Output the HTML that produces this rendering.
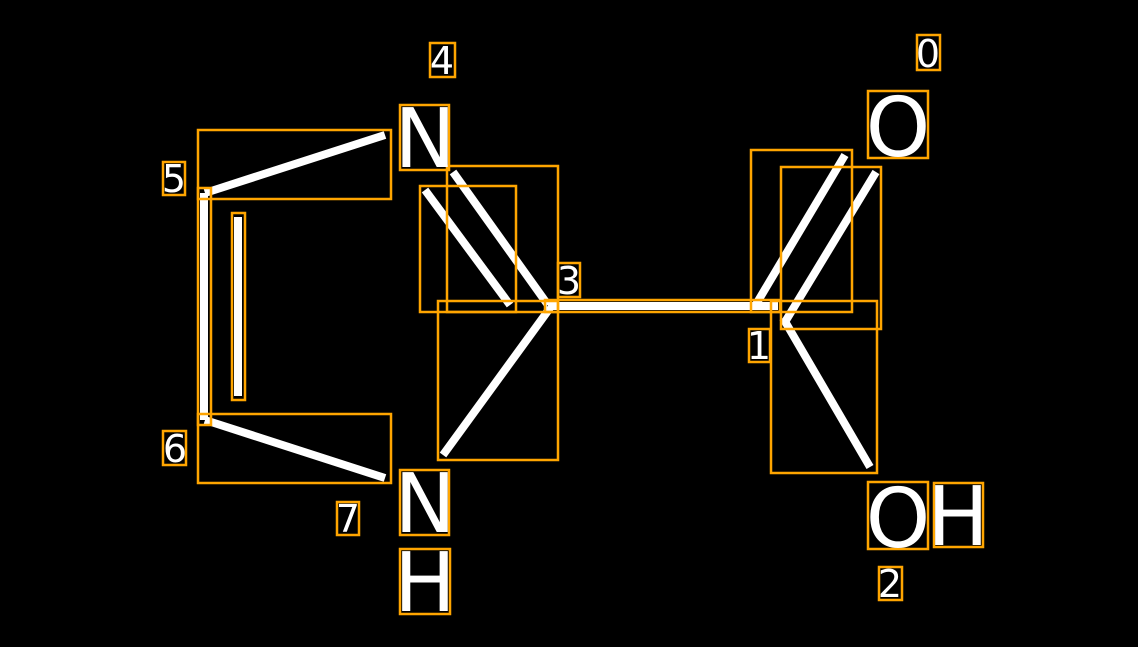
<!DOCTYPE html>
<html><head><meta charset="utf-8"><style>html,body{margin:0;padding:0;background:#000}svg{display:block}</style></head>
<body>
<svg width="1138" height="647" viewBox="0 0 1138 647" xmlns="http://www.w3.org/2000/svg">
<rect width="1138" height="647" fill="#000"/>
<g stroke="#fff" stroke-width="8" stroke-linecap="butt" fill="none">
<line x1="385" y1="135" x2="205" y2="193"/>
<line x1="204" y1="193" x2="204" y2="420"/>
<line x1="238" y1="217" x2="238" y2="396"/>
<line x1="205" y1="420" x2="385" y2="478"/>
<line x1="453" y1="172" x2="548" y2="305"/>
<line x1="425" y1="190" x2="510" y2="305"/>
<line x1="550" y1="308" x2="443" y2="455"/>
<line x1="548" y1="306" x2="778" y2="306"/>
<line x1="755" y1="306" x2="845" y2="155"/>
<line x1="785" y1="322" x2="876" y2="172"/>
<line x1="783" y1="318" x2="870" y2="467"/>
</g>
<g stroke="#FFA500" stroke-width="2.5" fill="none">
<rect x="198" y="130" width="193" height="69"/>
<rect x="198" y="414" width="193" height="69"/>
<rect x="198" y="188" width="13" height="237"/>
<rect x="232" y="213" width="13" height="187"/>
<rect x="447" y="166" width="111" height="146"/>
<rect x="420" y="186" width="96" height="126"/>
<rect x="438" y="301" width="120" height="159"/>
<rect x="545" y="300" width="235" height="12"/>
<rect x="751" y="150" width="101" height="162"/>
<rect x="781" y="167" width="100" height="162"/>
<rect x="771" y="301" width="106" height="172"/>
<rect x="430" y="43" width="25" height="34"/>
<rect x="400" y="105" width="49" height="65"/>
<rect x="163" y="162" width="22" height="33"/>
<rect x="163" y="431" width="23" height="34"/>
<rect x="337" y="502" width="22" height="33"/>
<rect x="400" y="470" width="49" height="65"/>
<rect x="400" y="549" width="50" height="65"/>
<rect x="558" y="263" width="22" height="34"/>
<rect x="749" y="329" width="21" height="33"/>
<rect x="917" y="35" width="23" height="35"/>
<rect x="868" y="91" width="60" height="67"/>
<rect x="868" y="482" width="60" height="67"/>
<rect x="934" y="483" width="49" height="64"/>
<rect x="879" y="567" width="23" height="33"/>
</g>
<g fill="#fff" font-family="DejaVu Sans, sans-serif" text-anchor="middle">
<g font-size="82">
<text x="425" y="167">N</text>
<text x="425" y="532">N</text>
<text x="425" y="611">H</text>
<text x="898" y="156">O</text>
<text x="898" y="547">O</text>
<text x="958" y="545">H</text>
</g>
<g font-size="38">
<text x="442" y="74">4</text>
<text x="174" y="192">5</text>
<text x="175" y="462">6</text>
<text x="348" y="532">7</text>
<text x="569" y="294">3</text>
<text x="759" y="359">1</text>
<text x="928" y="67">0</text>
<text x="890" y="597">2</text>
</g>
</g>
</svg>
</body></html>
